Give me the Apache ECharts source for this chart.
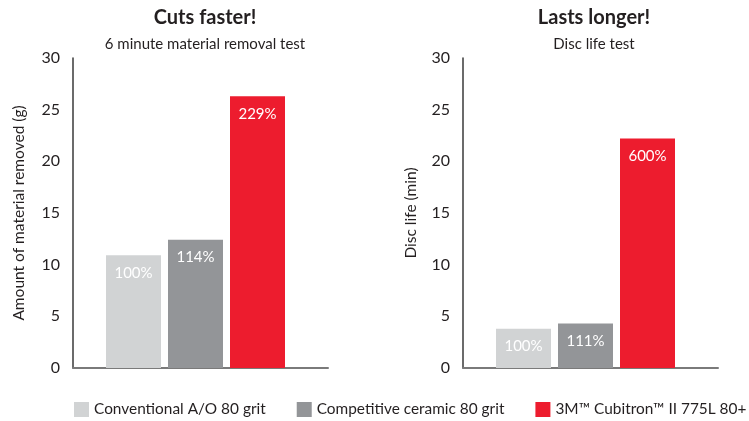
<!DOCTYPE html>
<html>
<head>
<meta charset="utf-8">
<script src="https://cdn.jsdelivr.net/npm/echarts@6/dist/echarts.min.js"></script>
<style>
html,body{margin:0;padding:0;background:#fff;}
#chart{width:749px;height:421px;}
</style>
</head>
<body>
<div id="chart"></div>
<script>
// Data
var seriesNames = ['Conventional A/O 80 grit', 'Competitive ceramic 80 grit', '3M\u2122 Cubitron\u2122 II 775L 80+'];
var removalValues = [10.9, 12.4, 26.3];
var removalLabels = ['100%', '114%', '229%'];
var lifeValues = [3.8, 4.3, 22.2];
var lifeLabels = ['100%', '111%', '600%'];
var yTicks = [0, 5, 10, 15, 20, 25, 30];

var colors = ['#d1d3d4', '#939598', '#ed1c2e'];
var FONT = 'Lato, "Noto Sans", sans-serif';
var TXT = '#231f20';

var chart = echarts.init(document.getElementById('chart'), null, {renderer: 'canvas'});

function yAxis(gi, name, gap) {
  return {
    type: 'value', gridIndex: gi, min: yTicks[0], max: yTicks[yTicks.length - 1], interval: 5,
    name: name, nameLocation: 'middle', nameGap: gap, nameRotate: 90,
    nameTextStyle: {fontSize: 15.5, color: TXT, fontFamily: FONT},
    axisLine: {show: true, lineStyle: {color: '#3a3a3a', width: 1.5}},
    axisTick: {show: false},
    splitLine: {show: false},
    axisLabel: {fontSize: 16, color: TXT, fontFamily: FONT, margin: 13}
  };
}
function xAxis(gi) {
  return {
    type: 'category', gridIndex: gi, data: [''],
    axisLine: {show: true, lineStyle: {color: '#7a7a7a', width: 2}},
    axisTick: {show: false}, axisLabel: {show: false}, splitLine: {show: false}
  };
}
function makeSeries(gi, values, labels) {
  var out = values.map(function (v, i) {
    return {
      type: 'bar', name: seriesNames[i], xAxisIndex: gi, yAxisIndex: gi,
      data: [v], barWidth: 55, barGap: '12.73%',
      itemStyle: {color: colors[i]},
      label: {show: true, position: 'insideTop', distance: 10, color: '#fff',
              fontSize: 15, fontFamily: FONT, formatter: labels[i]}
    };
  });
  out.push({type: 'bar', name: '_pad', xAxisIndex: gi, yAxisIndex: gi,
            data: [null], barWidth: 3, barGap: '12.73%', silent: true});
  return out;
}

var option = {
  animation: false,
  textStyle: {fontFamily: FONT},
  title: [
    {text: 'Cuts faster!', subtext: '6 minute material removal test', left: 200, top: 3, textAlign: 'center', itemGap: 9,
     textStyle: {fontSize: 20, fontWeight: 'bold', color: TXT, fontFamily: FONT},
     subtextStyle: {fontSize: 15, color: TXT, fontFamily: FONT}},
    {text: 'Lasts longer!', subtext: 'Disc life test', left: 589, top: 3, textAlign: 'center', itemGap: 9,
     textStyle: {fontSize: 20, fontWeight: 'bold', color: TXT, fontFamily: FONT},
     subtextStyle: {fontSize: 15, color: TXT, fontFamily: FONT}}
  ],
  legend: {
    data: seriesNames, left: 74, top: 402, padding: 0, icon: 'rect', itemWidth: 15, itemHeight: 15, itemGap: 31,
    textStyle: {fontSize: 15.4, color: TXT, fontFamily: FONT}
  },
  grid: [
    {left: 73, top: 58, width: 255, height: 310},
    {left: 463, top: 58, width: 255, height: 310}
  ],
  xAxis: [xAxis(0), xAxis(1)],
  yAxis: [yAxis(0, 'Amount of material removed (g)', 46), yAxis(1, 'Disc life (min)', 44)],
  series: makeSeries(0, removalValues, removalLabels).concat(makeSeries(1, lifeValues, lifeLabels))
};
chart.setOption(option);
</script>
</body>
</html>
